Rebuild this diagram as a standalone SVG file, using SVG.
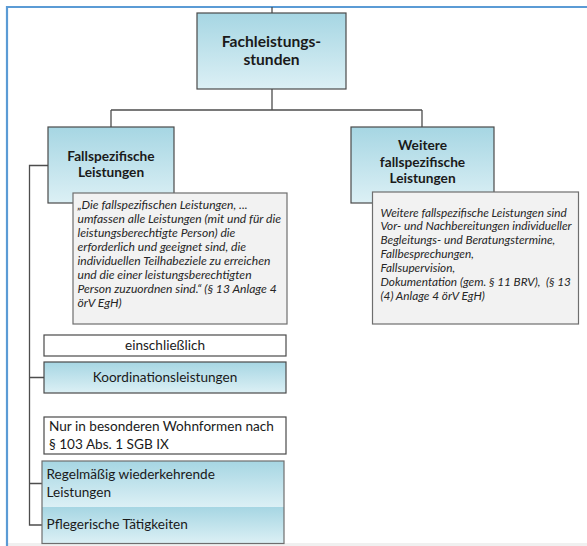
<svg xmlns="http://www.w3.org/2000/svg" width="587" height="546" viewBox="0 0 587 546">
  <defs>
    <linearGradient id="blueGrad" x1="0" y1="0" x2="0" y2="1">
      <stop offset="0" stop-color="#a6d6e3"/>
      <stop offset="1" stop-color="#dcf0f5"/>
    </linearGradient>
    <style>
      .frame { fill: none; stroke: #5b9bd5; stroke-width: 2.2; }
      .conn { fill: none; stroke: #4d4d4d; stroke-width: 1.3; }
      .box { fill: url(#blueGrad); stroke: #4a4a4a; stroke-width: 1.2; }
      .plain { fill: #ffffff; stroke: #4a4a4a; stroke-width: 1.2; }
      .note { fill: #f2f2f2; stroke: #6e6e6e; stroke-width: 1.2; }
      .title { font-family: "Lato", "Liberation Sans", sans-serif; font-weight: bold; fill: #1a1a1a; text-anchor: middle; }
      .body { font-family: "Lato", "Liberation Sans", sans-serif; font-size: 13.6px; fill: #1a1a1a; }
      .it { font-family: "Lato", "Liberation Sans", sans-serif; font-size: 12.1px; font-style: italic; fill: #262626; }
      .it2 { font-family: "Lato", "Liberation Sans", sans-serif; font-size: 11.8px; font-style: italic; fill: #262626; }
    </style>
  </defs>

  <rect x="0" y="0" width="587" height="546" fill="#ffffff"/>
  <rect x="7" y="543" width="580" height="3" fill="#f0f0f0"/>
  <path class="frame" d="M7,546 V7 H587"/>

  <g id="connectors">
    <path class="conn" d="M272,7 V13"/>
    <path class="conn" d="M272,89 V110 M111,110 H422 M111,110 V127 M422,110 V127"/>
    <path class="conn" d="M48,165.5 H29.5 V525 H42 M29.5,377.5 H44 M29.5,483.5 H42"/>
  </g>

  <g id="node-fachleistungsstunden">
    <rect class="box" x="197" y="13" width="149" height="76"/>
    <text class="title" x="271.5" y="46.5" font-size="15.6">Fachleistungs-</text>
    <text class="title" x="271.5" y="65" font-size="15.6">stunden</text>
  </g>

  <g id="node-fallspezifische">
    <rect class="box" x="48" y="127" width="126" height="76"/>
    <text class="title" x="111" y="160.5" font-size="13.7">Fallspezifische</text>
    <text class="title" x="111" y="177" font-size="13.7">Leistungen</text>
  </g>

  <g id="node-weitere">
    <rect class="box" x="351" y="127" width="143" height="76"/>
    <text class="title" x="422.5" y="150" font-size="13.7">Weitere</text>
    <text class="title" x="422.5" y="166.7" font-size="13.7">fallspezifische</text>
    <text class="title" x="422.5" y="183.3" font-size="13.7">Leistungen</text>
  </g>

  <g id="note-fallspezifische">
    <rect class="note" x="73" y="193" width="214" height="131"/>
    <text class="it" x="77.5" y="209.3">„Die fallspezifischen Leistungen, ...</text>
    <text class="it" x="77.5" y="223.3">umfassen alle Leistungen (mit und für die</text>
    <text class="it" x="77.5" y="237.3">leistungsberechtigte Person) die</text>
    <text class="it" x="77.5" y="251.3">erforderlich und geeignet sind, die</text>
    <text class="it" x="77.5" y="265.3">individuellen Teilhabeziele zu erreichen</text>
    <text class="it" x="77.5" y="279.3">und die einer leistungsberechtigten</text>
    <text class="it" x="77.5" y="293.3">Person zuzuordnen sind.“ (§ 13 Anlage 4</text>
    <text class="it" x="77.5" y="307.3">örV EgH)</text>
  </g>

  <g id="note-weitere">
    <rect class="note" x="372.5" y="192" width="206" height="132"/>
    <text class="it2" x="380.5" y="216.5">Weitere fallspezifische Leistungen sind</text>
    <text class="it2" x="380.5" y="230.4">Vor- und Nachbereitungen individueller</text>
    <text class="it2" x="380.5" y="244.3">Begleitungs- und Beratungstermine,</text>
    <text class="it2" x="380.5" y="258.2">Fallbesprechungen,</text>
    <text class="it2" x="380.5" y="272.1">Fallsupervision,</text>
    <text class="it2" x="380.5" y="286" xml:space="preserve">Dokumentation (gem. § 11 BRV),  (§ 13</text>
    <text class="it2" x="380.5" y="299.9">(4) Anlage 4 örV EgH)</text>
  </g>

  <g id="node-einschliesslich">
    <rect class="plain" x="44" y="335" width="242" height="21"/>
    <text class="body" x="165" y="349.5" text-anchor="middle">einschließlich</text>
  </g>

  <g id="node-koordination">
    <rect class="box" x="44" y="362" width="242" height="31"/>
    <text class="body" x="165" y="382" text-anchor="middle">Koordinationsleistungen</text>
  </g>

  <g id="node-wohnformen">
    <rect class="plain" x="44" y="417" width="242" height="37"/>
    <text class="body" x="49" y="431">Nur in besonderen Wohnformen nach</text>
    <text class="body" x="49" y="448.5">§ 103 Abs. 1 SGB IX</text>
  </g>

  <g id="node-regelmaessig">
    <rect x="42" y="461" width="242" height="46" fill="url(#blueGrad)"/>
    <text class="body" x="46.5" y="479">Regelmäßig wiederkehrende</text>
    <text class="body" x="46.5" y="496.5">Leistungen</text>
  </g>

  <g id="node-pflegerisch">
    <rect x="42" y="507" width="242" height="36.5" fill="url(#blueGrad)"/>
    <text class="body" x="46.5" y="529">Pflegerische Tätigkeiten</text>
  </g>
  <rect x="42" y="461" width="242" height="82.5" fill="none" stroke="#6e6e6e" stroke-width="1.2"/>
</svg>
